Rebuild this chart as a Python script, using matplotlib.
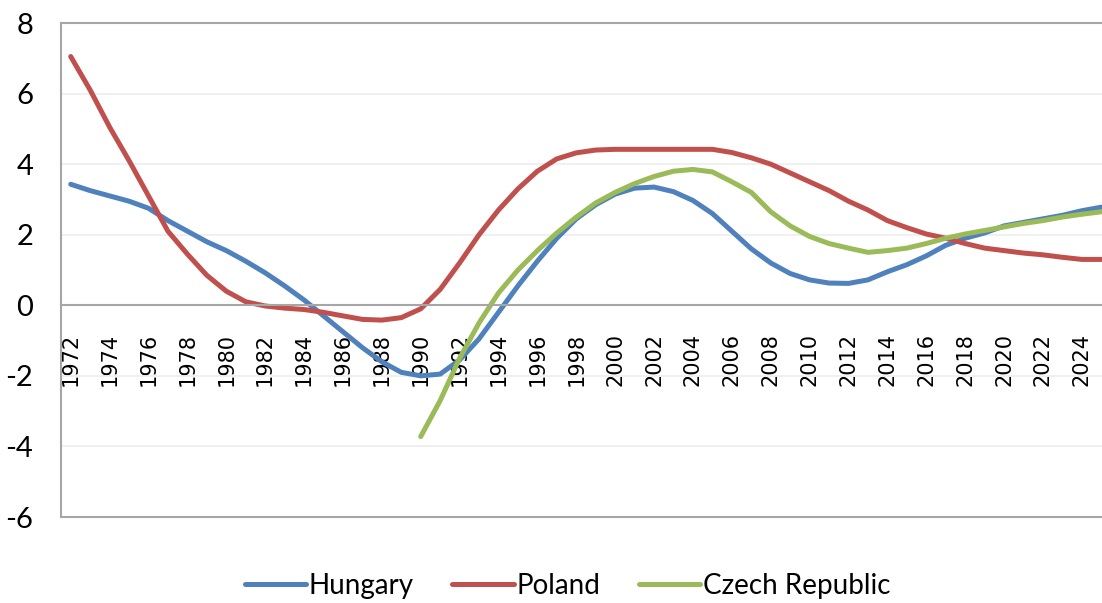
import numpy as np
import matplotlib
matplotlib.use("Agg")
import matplotlib.pyplot as plt

plt.rcParams["axes.unicode_minus"] = False

years = list(range(1972, 2026))

hungary = [3.43, 3.25, 3.1, 2.95, 2.75, 2.4, 2.1, 1.8, 1.55, 1.25,
           0.92, 0.55, 0.15, -0.3, -0.75, -1.2, -1.6, -1.9, -2.0, -1.95,
           -1.55, -0.95, -0.2, 0.55, 1.25, 1.9, 2.45, 2.85, 3.15, 3.32,
           3.35, 3.22, 2.97, 2.6, 2.1, 1.6, 1.2, 0.9, 0.72, 0.63,
           0.62, 0.72, 0.95, 1.15, 1.4, 1.7, 1.9, 2.05, 2.25, 2.35,
           2.45, 2.55, 2.68, 2.78]

poland = [7.05, 6.1, 5.05, 4.1, 3.1, 2.1, 1.45, 0.85, 0.4, 0.1,
          -0.02, -0.08, -0.12, -0.2, -0.3, -0.4, -0.42, -0.35, -0.1, 0.45,
          1.2, 2.0, 2.7, 3.3, 3.8, 4.15, 4.32, 4.4, 4.42, 4.42,
          4.42, 4.42, 4.42, 4.42, 4.33, 4.18, 4.0, 3.75, 3.5, 3.25,
          2.95, 2.7, 2.4, 2.2, 2.02, 1.9, 1.75, 1.62, 1.55, 1.48,
          1.43, 1.36, 1.3, 1.3]

czech = [np.nan] * 18 + [
    -3.72, -2.7, -1.5, -0.5, 0.35, 1.0, 1.55, 2.05, 2.5, 2.9,
    3.2, 3.45, 3.65, 3.8, 3.85, 3.78, 3.5, 3.2, 2.65, 2.25,
    1.95, 1.75, 1.62, 1.5, 1.55, 1.62, 1.75, 1.9, 2.02, 2.12,
    2.22, 2.32, 2.4, 2.5, 2.58, 2.65]

x = np.arange(len(years))

fig = plt.figure(figsize=(11.02, 6.03), dpi=100)
ax = fig.add_axes([61 / 1102, 1 - 517 / 603, 1050 / 1102, 494 / 603])

# move the category axis up to zero first (this resets the ticks)
for s in ["left", "top", "bottom"]:
    ax.spines[s].set_color("#a6a6a6")
    ax.spines[s].set_linewidth(1.5)
ax.spines["right"].set_visible(False)
ax.spines["bottom"].set_position(("data", 0))
ax.axhline(-6, color="#a6a6a6", lw=1.5, clip_on=False)

ax.plot(x, hungary, color="#4F81BD", lw=3.6, label="Hungary", solid_capstyle="round")
ax.plot(x, poland, color="#C0504D", lw=3.6, label="Poland", solid_capstyle="round")
ax.plot(x, czech, color="#9BBB59", lw=3.6, label="Czech Republic", solid_capstyle="round")

ax.set_xlim(-0.5, len(years) - 0.5)
ax.set_ylim(-6, 8)
ax.set_yticks(range(-6, 9, 2))
ax.grid(axis="y", color="#eeeeee", lw=1.2)
ax.set_axisbelow(True)

ax.set_xticks(x[::2])
ax.set_xticklabels([str(y) for y in years[::2]])
ax.tick_params(axis="x", length=0, pad=20)
ax.tick_params(axis="y", length=0, pad=20)
for lab in ax.get_xticklabels():
    lab.set_family("DejaVu Sans")
    lab.set_fontsize(15)
    lab.set_rotation(90)
    lab.set_va("top")
    lab.set_ha("center")
for lab in ax.get_yticklabels():
    lab.set_family("Lato")
    lab.set_fontsize(21)

fig.legend(loc="lower center", bbox_to_anchor=(0.515, -0.035), ncol=3, frameon=False,
           prop={"family": "Lato", "size": 20}, handlelength=2.2,
           handletextpad=0.1, columnspacing=1.4)

fig.savefig("out.png", dpi=100)
